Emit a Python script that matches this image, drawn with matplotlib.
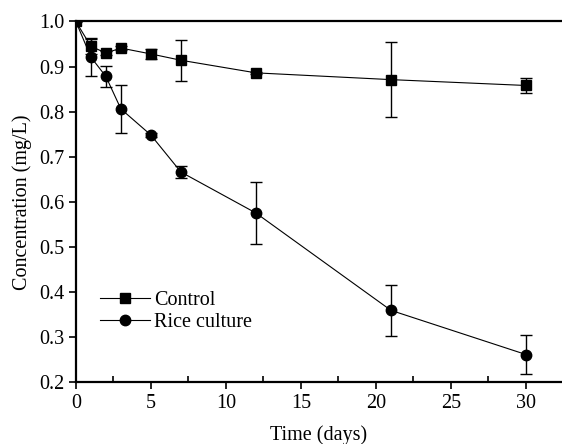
import matplotlib
matplotlib.use("Agg")
import matplotlib.pyplot as plt
from matplotlib.ticker import MultipleLocator
from matplotlib.lines import Line2D

days = [0, 1, 2, 3, 5, 7, 12, 21, 30]
control = [1.0, 0.945, 0.930, 0.941, 0.928, 0.914, 0.886, 0.871, 0.858]
control_err = [0.0, 0.018, 0.005, 0.004, 0.012, 0.046, 0.003, 0.084, 0.016]
rice = [1.0, 0.921, 0.878, 0.806, 0.748, 0.666, 0.575, 0.359, 0.261]
rice_err = [0.0, 0.041, 0.024, 0.054, 0.004, 0.013, 0.068, 0.057, 0.044]

plt.rcParams['font.family'] = ['Liberation Serif', 'DejaVu Serif']

fig = plt.figure(figsize=(5.62, 4.44), dpi=100)
ax = fig.add_axes([0.135, 0.1396, 0.865, 0.812])

ax.errorbar(days, control, yerr=control_err, color='black', marker='s', ms=6.5,
            lw=0.8, elinewidth=1.0, capsize=4, capthick=1.0)
ax.errorbar(days, rice, yerr=rice_err, color='black', marker='o', ms=7.5,
            lw=0.8, elinewidth=1.0, capsize=4, capthick=1.0)

ax.set_xlim(0, 32.4)
ax.set_ylim(0.2, 1.0)
ax.xaxis.set_major_locator(MultipleLocator(5))
ax.xaxis.set_minor_locator(MultipleLocator(2.5))
ax.yaxis.set_major_locator(MultipleLocator(0.1))
ax.yaxis.set_major_formatter(plt.FuncFormatter(lambda v, p: f"{v:.1f}"))

for s in ['left', 'bottom', 'top']:
    ax.spines[s].set_linewidth(1.6)
ax.spines['right'].set_visible(False)

ax.tick_params(axis='x', which='major', direction='out', length=5, width=1.2, labelsize=14.5)
ax.tick_params(axis='x', which='minor', direction='in', length=4, width=1.2)
ax.tick_params(axis='y', which='major', direction='out', length=5, width=1.2, labelsize=14.5)
ax.tick_params(top=False, right=False, which='both')

ax.set_xlabel('Time (days)', fontsize=14.5, labelpad=9)
ax.set_ylabel('Concentration (mg/L)', fontsize=14.5, labelpad=5)

handles = [
    Line2D([], [], color='black', marker='s', ms=6.5, lw=0.8, label='Control'),
    Line2D([], [], color='black', marker='o', ms=7.5, lw=0.8, label='Rice culture'),
]
ax.legend(handles=handles, loc='upper left', bbox_to_anchor=(0.033, 0.275), frameon=False,
          fontsize=14.5, handlelength=2.5, handletextpad=0.2, labelspacing=0.15,
          borderaxespad=0)

fig.savefig('out.png', dpi=100)
